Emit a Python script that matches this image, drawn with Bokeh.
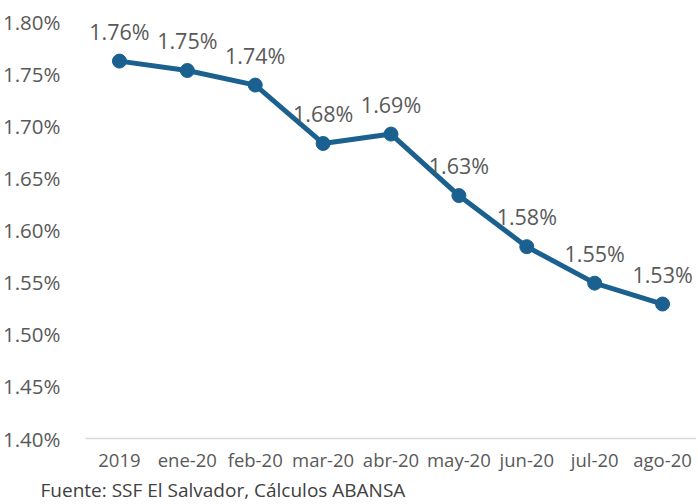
from bokeh.plotting import figure
from bokeh.models import ColumnDataSource, Title, FixedTicker, CustomJSTickFormatter
from bokeh.core.properties import value
from bokeh.embed import file_html
from bokeh.resources import INLINE

categories = ["2019", "ene-20", "feb-20", "mar-20", "abr-20", "may-20", "jun-20", "jul-20", "ago-20"]
values = [1.762, 1.753, 1.739, 1.683, 1.692, 1.633, 1.584, 1.549, 1.529]
labels = ["1.76%", "1.75%", "1.74%", "1.68%", "1.69%", "1.63%", "1.58%", "1.55%", "1.53%"]
y_ticks = [1.40, 1.45, 1.50, 1.55, 1.60, 1.65, 1.70, 1.75, 1.80]

FONT = "Open Sans"
TXT = "#595959"
BLUE = "#1B6190"

src = ColumnDataSource(dict(x=categories, y=values, lab=labels))

p = figure(x_range=categories, y_range=(1.40, 1.80), width=696, height=502,
           output_backend="svg", toolbar_location=None,
           min_border_left=0, min_border_right=0, min_border_top=21, min_border_bottom=0)
p.outline_line_color = None
p.xgrid.grid_line_color = None
p.ygrid.grid_line_color = None
p.x_range.range_padding = 0

p.line("x", "y", source=src, line_color=BLUE, line_width=5)
p.scatter("x", "y", source=src, size=14, fill_color=BLUE, line_color=BLUE)
p.text("x", "y", text="lab", source=src, y_offset=-30, text_align="center",
       text_baseline="middle", text_font=value(FONT), text_font_size="21.5px", text_color=TXT)

p.yaxis.ticker = FixedTicker(ticks=y_ticks)
p.yaxis.formatter = CustomJSTickFormatter(code="return tick.toFixed(2) + '%';")
p.yaxis.axis_line_color = None
p.yaxis.major_tick_line_color = None
p.yaxis.minor_tick_line_color = None
p.yaxis.major_label_text_font = FONT
p.yaxis.major_label_text_font_size = "20.5px"
p.yaxis.major_label_text_color = TXT
p.yaxis.major_label_standoff = 19

p.xaxis.axis_line_color = "#D9D9D9"
p.xaxis.axis_line_width = 1.5
p.xaxis.major_tick_line_color = None
p.xaxis.minor_tick_line_color = None
p.xaxis.major_label_text_font = FONT
p.xaxis.major_label_text_font_size = "18.5px"
p.xaxis.major_label_text_color = TXT
p.xaxis.major_label_standoff = 2

foot = Title(text="Fuente: SSF El Salvador, Cálculos ABANSA", align="left", offset=-45,
             text_font=FONT, text_font_size="19px", text_color="#404040",
             text_font_style="normal", standoff=0)
p.add_layout(foot, "below")

open("out.html", "w").write(file_html(p, INLINE))
